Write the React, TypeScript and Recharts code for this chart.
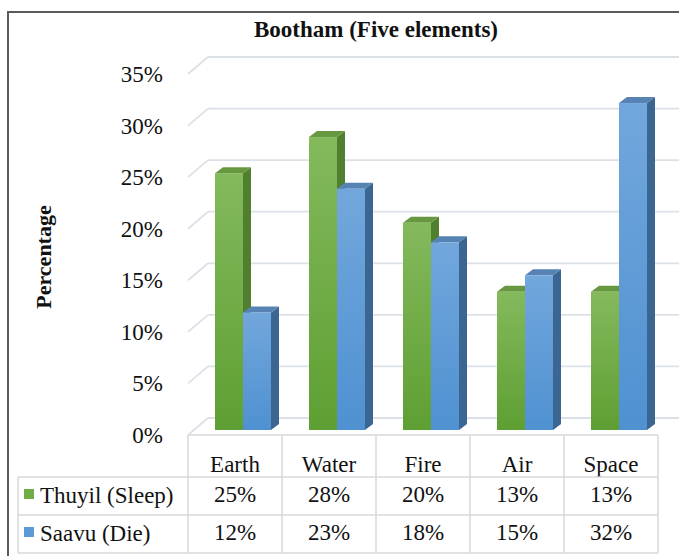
import React from 'react';
import { BarChart, Bar, XAxis, YAxis, CartesianGrid } from 'recharts';

const categories = ['Earth', 'Water', 'Fire', 'Air', 'Space'];
const thuyil = [24.9, 28.4, 20.1, 13.4, 13.4];
const saavu = [11.4, 23.4, 18.2, 15.0, 31.7];
const thuyilLabels = ['25%', '28%', '20%', '13%', '13%'];
const saavuLabels = ['12%', '23%', '18%', '15%', '32%'];
const yTicks = [0, 5, 10, 15, 20, 25, 30, 35];
const seriesNames = ['Thuyil (Sleep)', 'Saavu (Die)'];

const data = categories.map((c, i) => ({ name: c, thuyil: thuyil[i], saavu: saavu[i] }));

const W = 679;
const H = 556;
const FONT = 'Liberation Serif, Tinos, Times New Roman, DejaVu Serif, serif';
const FS = 23;
const BAND = (658 - 188) / categories.length;
const SHIFT = 8;
const D = 8;
const DY = 6;
const GRID = '#dce1e8';
const TABLE = '#d9d9d9';
const TXT = { fontFamily: FONT } as React.CSSProperties;

const makeBar = (frontId: string, side: string, top: string) => (props: any) => {
  const { x, y, width, height } = props;
  if (width == null || height == null) return null;
  const X = x + SHIFT;
  const w = width;
  const h = height;
  return (
    <g>
      <polygon
        points={`${X + w},${y} ${X + w + D},${y - DY} ${X + w + D},${y + h - DY} ${X + w},${y + h}`}
        fill={side}
      />
      <polygon points={`${X},${y} ${X + D},${y - DY} ${X + w + D},${y - DY} ${X + w},${y}`} fill={top} />
      <rect x={X} y={y} width={w} height={h} fill={`url(#${frontId})`} />
    </g>
  );
};

const GreenBar = makeBar('gFront', '#4f7f2f', '#67983f');
const BlueBar = makeBar('bFront', '#3b6691', '#5683b3');

const GridLine = (p: any) => {
  const { x1, x2, y1 } = p;
  return (
    <g key={`g-${y1}`}>
      <line x1={x1} y1={y1 + 5} x2={x1 + 20} y2={y1 - 12} stroke={GRID} strokeWidth={1.8} />
      <line x1={x1 + 20} y1={y1 - 12} x2={x2 + 40} y2={y1 - 12} stroke={GRID} strokeWidth={1.8} />
    </g>
  );
};

const YTick = (p: any) => {
  const { x, y, payload } = p;
  return (
    <text x={x - 25} y={y + 13} textAnchor="end" style={TXT} fontSize={FS} fill="#111">
      {payload.value}%
    </text>
  );
};

const XTick = (p: any) => {
  const { x, y, payload } = p;
  const i = categories.indexOf(payload.value);
  const half = BAND / 2;
  return (
    <g>
      <line x1={x - half} x2={x - half} y1={y + 5} y2={y + 123} stroke={TABLE} strokeWidth={1.5} />
      {i === categories.length - 1 && (
        <line x1={x + half} x2={x + half} y1={y + 5} y2={y + 123} stroke={TABLE} strokeWidth={1.5} />
      )}
      <text x={x} y={y + 42} textAnchor="middle" style={TXT} fontSize={FS} fill="#111">
        {payload.value}
      </text>
      <text x={x} y={y + 72} textAnchor="middle" style={TXT} fontSize={FS} fill="#111">
        {thuyilLabels[i]}
      </text>
      <text x={x} y={y + 110} textAnchor="middle" style={TXT} fontSize={FS} fill="#111">
        {saavuLabels[i]}
      </text>
    </g>
  );
};

export default function App() {
  return (
    <div style={{ position: 'absolute', left: 0, top: 0, width: W, height: H, background: '#fff', overflow: 'hidden' }}>
      <BarChart
        width={W}
        height={H}
        data={data}
        margin={{ top: 69, right: 21, left: 0, bottom: 0 }}
        barGap={0}
        barSize={28}
      >
        <defs>
          <linearGradient id="gFront" x1="0" y1="0" x2="0" y2="1">
            <stop offset="0%" stopColor="#84b95c" />
            <stop offset="100%" stopColor="#5e9f33" />
          </linearGradient>
          <linearGradient id="bFront" x1="0" y1="0" x2="0" y2="1">
            <stop offset="0%" stopColor="#72a7dc" />
            <stop offset="100%" stopColor="#4f91d1" />
          </linearGradient>
        </defs>
        <CartesianGrid vertical={false} horizontal={GridLine as any} />
        <XAxis
          dataKey="name"
          axisLine={false}
          tickLine={false}
          tickSize={0}
          tickMargin={0}
          height={126}
          interval={0}
          tick={XTick as any}
        />
        <YAxis
          domain={[0, 35]}
          ticks={yTicks}
          width={188}
          axisLine={false}
          tickLine={false}
          tickSize={0}
          tickMargin={0}
          tick={YTick as any}
        />
        <Bar dataKey="thuyil" name={seriesNames[0]} shape={GreenBar as any} isAnimationActive={false} />
        <Bar dataKey="saavu" name={seriesNames[1]} shape={BlueBar as any} isAnimationActive={false} />
      </BarChart>
      <svg width={W} height={H} style={{ position: 'absolute', left: 0, top: 0, pointerEvents: 'none' }}>
        <rect x={8} y={12} width={720} height={600} fill="none" stroke="#5a5a5a" strokeWidth={2} />
        <text x={376} y={37} textAnchor="middle" style={TXT} fontSize={23} fontWeight="bold" fill="#111">
          Bootham (Five elements)
        </text>
        <text
          x={51}
          y={257}
          textAnchor="middle"
          style={TXT}
          fontSize={22}
          fontWeight="bold"
          fill="#111"
          transform="rotate(-90 51 257)"
        >
          Percentage
        </text>
        <line x1={188} y1={435} x2={658} y2={435} stroke={TABLE} strokeWidth={1.5} />
        <line x1={18} y1={477} x2={658} y2={477} stroke={TABLE} strokeWidth={1.5} />
        <line x1={18} y1={515} x2={658} y2={515} stroke={TABLE} strokeWidth={1.5} />
        <line x1={18} y1={553} x2={658} y2={553} stroke={TABLE} strokeWidth={1.5} />
        <line x1={18} y1={477} x2={18} y2={553} stroke={TABLE} strokeWidth={1.5} />
        <rect x={24} y={489} width={10} height={10} fill="#70ad47" />
        <text x={40} y={503} style={TXT} fontSize={FS} fill="#111">
          {seriesNames[0]}
        </text>
        <rect x={24} y={527} width={10} height={10} fill="#5b9bd5" />
        <text x={40} y={541} style={TXT} fontSize={FS} fill="#111">
          {seriesNames[1]}
        </text>
      </svg>
    </div>
  );
}
